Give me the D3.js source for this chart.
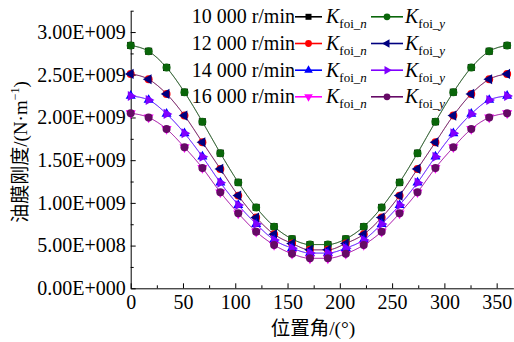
<!DOCTYPE html>
<html>
<head>
<meta charset="utf-8">
<script src="https://cdn.jsdelivr.net/npm/d3@7"></script>
<style>
  html, body { margin: 0; padding: 0; background: #fff; }
  svg { display: block; }
  .serif { font-family: "Liberation Serif", "Times New Roman", serif; }
</style>
</head>
<body>
<svg id="chart" width="514" height="342"></svg>
<script>
// Position angle (deg) of each computed point
const angles = [0, 17.14, 34.29, 51.43, 68.57, 85.71, 102.86, 120, 137.14, 154.29, 171.43,
                188.57, 205.71, 222.86, 240, 257.14, 274.29, 291.43, 308.57, 325.71, 342.86, 360];

// Oil-film stiffness (N/m) per rotational speed, normal (n) and tangential (y) components
const k10000n = [2.843e9, 2.775e9, 2.585e9, 2.296e9, 1.950e9, 1.582e9, 1.240e9, 0.947e9, 0.722e9, 0.578e9, 0.512e9,
                 0.512e9, 0.578e9, 0.722e9, 0.947e9, 1.240e9, 1.582e9, 1.950e9, 2.296e9, 2.585e9, 2.775e9, 2.843e9];
const k10000y = [2.843e9, 2.775e9, 2.585e9, 2.296e9, 1.950e9, 1.582e9, 1.240e9, 0.947e9, 0.722e9, 0.578e9, 0.512e9,
                 0.512e9, 0.578e9, 0.722e9, 0.947e9, 1.240e9, 1.582e9, 1.950e9, 2.296e9, 2.585e9, 2.775e9, 2.843e9];
const k12000n = [2.510e9, 2.447e9, 2.276e9, 2.022e9, 1.710e9, 1.398e9, 1.085e9, 0.828e9, 0.632e9, 0.525e9, 0.450e9,
                 0.450e9, 0.525e9, 0.632e9, 0.828e9, 1.085e9, 1.398e9, 1.710e9, 2.022e9, 2.276e9, 2.447e9, 2.510e9];
const k12000y = [2.510e9, 2.447e9, 2.276e9, 2.022e9, 1.710e9, 1.398e9, 1.085e9, 0.828e9, 0.632e9, 0.525e9, 0.450e9,
                 0.450e9, 0.525e9, 0.632e9, 0.828e9, 1.085e9, 1.398e9, 1.710e9, 2.022e9, 2.276e9, 2.447e9, 2.510e9];
const k14000n = [2.252e9, 2.205e9, 2.042e9, 1.815e9, 1.541e9, 1.237e9, 0.975e9, 0.753e9, 0.566e9, 0.470e9, 0.412e9,
                 0.412e9, 0.470e9, 0.566e9, 0.753e9, 0.975e9, 1.237e9, 1.541e9, 1.815e9, 2.042e9, 2.205e9, 2.252e9];
const k14000y = [2.252e9, 2.205e9, 2.042e9, 1.815e9, 1.541e9, 1.237e9, 0.975e9, 0.753e9, 0.566e9, 0.470e9, 0.412e9,
                 0.412e9, 0.470e9, 0.566e9, 0.753e9, 0.975e9, 1.237e9, 1.541e9, 1.815e9, 2.042e9, 2.205e9, 2.252e9];
const k16000n = [2.049e9, 2.000e9, 1.865e9, 1.651e9, 1.409e9, 1.124e9, 0.878e9, 0.663e9, 0.507e9, 0.404e9, 0.351e9,
                 0.351e9, 0.404e9, 0.507e9, 0.663e9, 0.878e9, 1.124e9, 1.409e9, 1.651e9, 1.865e9, 2.000e9, 2.049e9];
const k16000y = [2.049e9, 2.000e9, 1.865e9, 1.651e9, 1.409e9, 1.124e9, 0.878e9, 0.663e9, 0.507e9, 0.404e9, 0.351e9,
                 0.351e9, 0.404e9, 0.507e9, 0.663e9, 0.878e9, 1.124e9, 1.409e9, 1.651e9, 1.865e9, 2.000e9, 2.049e9];

const speedLabels = ["10 000 r/min", "12 000 r/min", "14 000 r/min", "16 000 r/min"];
const xTicks = [0, 50, 100, 150, 200, 250, 300, 350];
const yTicks = [0, 0.5e9, 1.0e9, 1.5e9, 2.0e9, 2.5e9, 3.0e9];

// Series: styling per curve; drawn in order so the y-component markers sit on top
const series = [
  { vals: k10000n, color: "#000000", sym: "square",   row: 0, col: 0 },
  { vals: k10000y, color: "#0a660a", sym: "circle",   row: 0, col: 1 },
  { vals: k12000n, color: "#ff0000", sym: "circle",   row: 1, col: 0 },
  { vals: k12000y, color: "#000080", sym: "left",     row: 1, col: 1 },
  { vals: k14000n, color: "#0000ff", sym: "up",       row: 2, col: 0 },
  { vals: k14000y, color: "#8000ff", sym: "right",    row: 2, col: 1 },
  { vals: k16000n, color: "#ff00ff", sym: "down",     row: 3, col: 0 },
  { vals: k16000y, color: "#660a66", sym: "circle",   row: 3, col: 1 }
];

const svg = d3.select("#chart");
const x = d3.scaleLinear().domain([0, 366]).range([130.7, 513.4]);
const y = d3.scaleLinear().domain([0, 3.25e9]).range([288.3, 10.7]);

function sciFmt(v) {
  if (v === 0) return "0.00E+000";
  const e = Math.floor(Math.log10(v) + 1e-9);
  const m = v / Math.pow(10, e);
  return m.toFixed(2) + "E+" + String(e).padStart(3, "0");
}

function symPath(kind, size) {
  const t = d3.symbol().size(size);
  if (kind === "square") return { d: t.type(d3.symbolSquare)(), rot: 0 };
  if (kind === "circle") return { d: t.type(d3.symbolCircle)(), rot: 0 };
  const tri = t.type(d3.symbolTriangle)();
  const rot = { up: 0, right: 90, down: 180, left: -90 }[kind];
  return { d: tri, rot };
}

// Axes: ticks point inward, minor ticks halfway between labelled ones
const xAxisG = svg.append("g").attr("transform", `translate(0,${y(0)})`);
xAxisG.call(d3.axisBottom(x).tickValues(xTicks).tickSizeInner(-5).tickSizeOuter(0).tickPadding(7));
svg.append("g").attr("transform", `translate(0,${y(0)})`)
  .call(d3.axisBottom(x).tickValues([25, 75, 125, 175, 225, 275, 325]).tickSizeInner(-3).tickSizeOuter(0).tickFormat(""))
  .select(".domain").remove();

const yAxisG = svg.append("g").attr("transform", `translate(${x(0)},0)`);
yAxisG.call(d3.axisLeft(y).tickValues(yTicks).tickSizeInner(-5).tickSizeOuter(0).tickPadding(5).tickFormat(sciFmt));
svg.append("g").attr("transform", `translate(${x(0)},0)`)
  .call(d3.axisLeft(y).tickValues([0.25e9, 0.75e9, 1.25e9, 1.75e9, 2.25e9, 2.75e9, 3.25e9]).tickSizeInner(-3).tickSizeOuter(0).tickFormat(""))
  .select(".domain").remove();

svg.selectAll(".domain, .tick line").attr("stroke", "#000").attr("stroke-width", 1);
xAxisG.selectAll(".tick text").attr("class", "serif").attr("font-size", 20).attr("fill", "#000");
yAxisG.selectAll(".tick text").attr("class", "serif").attr("font-size", 20).attr("fill", "#000");

// Curves and markers
const line = d3.line().x((d, i) => x(angles[i])).y(d => y(d)).curve(d3.curveMonotoneX);
series.forEach(s => {
  svg.append("path").datum(s.vals)
    .attr("d", line).attr("fill", "none")
    .attr("stroke", s.color).attr("stroke-width", 0.9).attr("stroke-opacity", 0.6);
  const m = symPath(s.sym, s.sym === "circle" || s.sym === "square" ? 50 : 44);
  svg.append("g").selectAll("path").data(s.vals).join("path")
    .attr("d", m.d).attr("fill", s.color)
    .attr("transform", (d, i) => `translate(${x(angles[i])},${y(d)}) rotate(${m.rot})`);
});

// Legend
const leg = svg.append("g");
const rowY = [23.3, 50, 76.7, 103.3];
speedLabels.forEach((lab, r) => {
  leg.append("text").attr("class", "serif").attr("font-size", 20)
    .attr("x", 295).attr("y", rowY[r]).attr("text-anchor", "end").text(lab);
});
const segX = [[295, 322], [371, 403]];
const txtX = [326, 405];
series.forEach(s => {
  const cy = rowY[s.row] - 6.5;
  const [x0, x1] = segX[s.col];
  leg.append("line").attr("x1", x0).attr("x2", x1).attr("y1", cy).attr("y2", cy)
    .attr("stroke", s.color).attr("stroke-width", 1.6);
  const m = symPath(s.sym, s.sym === "circle" || s.sym === "square" ? 36 : 32);
  leg.append("path").attr("d", m.d).attr("fill", s.color)
    .attr("transform", `translate(${(x0 + x1) / 2},${cy}) rotate(${m.rot})`);
  const t = leg.append("text").attr("class", "serif").attr("x", txtX[s.col]).attr("y", rowY[s.row]);
  t.append("tspan").attr("font-size", 20).attr("font-style", "italic").text("K");
  t.append("tspan").attr("font-size", 13).attr("dy", 5).text("foi");
  t.append("tspan").attr("font-size", 13).attr("font-style", "italic").text(s.col === 0 ? "_n" : "_y");
});

// Axis titles
svg.append("text").attr("x", 313).attr("y", 335).attr("text-anchor", "middle")
  .attr("font-size", 19.5).attr("fill", "#000")
  .call(t => {
    t.append("tspan").attr("font-family", "'Noto Sans CJK SC', sans-serif").text("位置角");
    t.append("tspan").attr("class", "serif").text("/(°)");
  });

svg.append("text").attr("transform", "translate(27,152) rotate(-90)").attr("text-anchor", "middle")
  .attr("font-size", 19).attr("fill", "#000")
  .call(t => {
    t.append("tspan").attr("font-family", "'Noto Sans CJK SC', sans-serif").text("油膜刚度");
    t.append("tspan").attr("class", "serif").text("/(N·m");
    t.append("tspan").attr("class", "serif").attr("font-size", 12).attr("dy", -8).text("−1");
    t.append("tspan").attr("class", "serif").attr("dy", 8).text(")");
  });
</script>
</body>
</html>
